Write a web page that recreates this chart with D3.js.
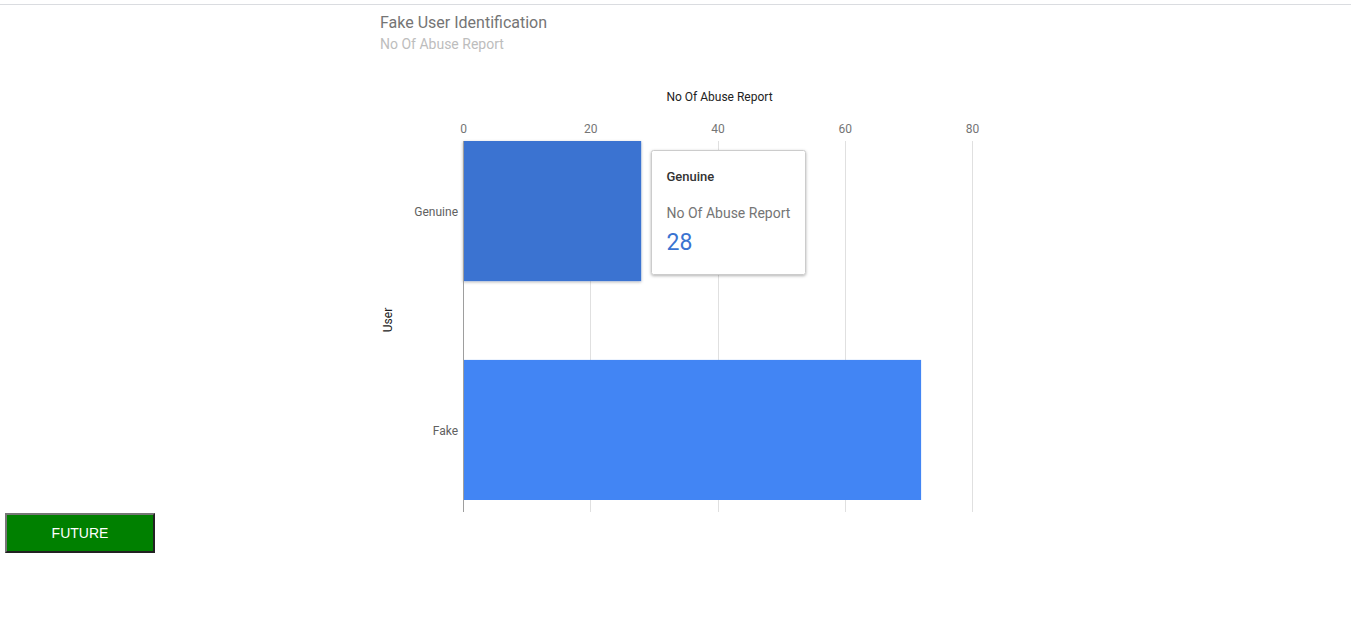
<!DOCTYPE html>
<html>
<head>
<meta charset="utf-8">
<script src="https://cdn.jsdelivr.net/npm/d3@7"></script>
<style>
  html, body { margin: 0; padding: 0; background: #fff; }
  body { width: 1351px; height: 630px; position: relative; overflow: hidden; font-family: Roboto, "Noto Sans", sans-serif; }
  #topline { position: absolute; left: 0; top: 4px; width: 1351px; height: 1px; background: #dadce0; }
  #future { position: absolute; left: 5px; top: 513px; width: 150px; height: 40px; background: #008000; color: #fff;
            border: 2px solid; border-color: #767676 #222 #222 #767676; font-family: Arial, "Liberation Sans", sans-serif;
            font-size: 14px; box-sizing: border-box; padding: 0; }
  svg { position: absolute; left: 0; top: 0; }
</style>
</head>
<body>
<div id="topline"></div>
<svg id="chart" width="1351" height="630"></svg>
<button id="future">FUTURE</button>
<script>
const categories = ["Genuine", "Fake"];
const values = [28, 72];
const xTicks = [0, 20, 40, 60, 80];
const chartTitle = "Fake User Identification";
const chartSubtitle = "No Of Abuse Report";
const xAxisTitle = "No Of Abuse Report";
const yAxisTitle = "User";
const tooltipIndex = 0;

const svg = d3.select("#chart");
const pLeft = 463, pRight = 972, pTop = 141, pBottom = 512;

const x = d3.scaleLinear().domain([0, 80]).range([pLeft, pRight]);
const y = d3.scaleBand().domain(categories).range([pTop, 500]).paddingInner(0.36).paddingOuter(0);

svg.append("text").attr("x", 380).attr("y", 28).attr("font-size", 16).attr("fill", "#757575").text(chartTitle);
svg.append("text").attr("x", 380).attr("y", 49).attr("font-size", 14).attr("fill", "#bdbdbd").text(chartSubtitle);

// gridlines
svg.append("g").selectAll("line").data(xTicks.filter(d => d !== 0)).join("line")
  .attr("x1", d => Math.round(x(d)) + 0.5).attr("x2", d => Math.round(x(d)) + 0.5).attr("y1", pTop).attr("y2", pBottom)
  .attr("stroke", "#e0e0e0").attr("stroke-width", 1);

// x axis tick labels
const xAxis = d3.axisTop(x).tickValues(xTicks).tickSize(0).tickPadding(0);
const gx = svg.append("g").attr("transform", `translate(0, 133)`).call(xAxis);
gx.select(".domain").remove();
gx.selectAll("text").attr("font-size", 12).attr("fill", "#757575").attr("font-family", "Roboto, sans-serif").attr("dy", 0);

svg.append("text").attr("x", (pLeft + pRight) / 2 + 2).attr("y", 101).attr("text-anchor", "middle")
  .attr("font-size", 12).attr("fill", "#222").text(xAxisTitle);

// bars
const colors = ["#3a73d1", "#4285f4"];
const shadow = svg.append("defs").append("filter").attr("id", "sh").attr("x", "-10%").attr("y", "-10%").attr("width", "130%").attr("height", "130%");
shadow.append("feDropShadow").attr("dx", 0).attr("dy", 1).attr("stdDeviation", 1.5).attr("flood-color", "#000").attr("flood-opacity", 0.3);

svg.append("g").selectAll("rect").data(categories).join("rect")
  .attr("x", x(0)).attr("y", d => y(d))
  .attr("width", (d, i) => x(values[i]) - x(0)).attr("height", y.bandwidth())
  .attr("fill", (d, i) => colors[i])
  .attr("filter", (d, i) => i === tooltipIndex ? "url(#sh)" : null);

// y axis
const yAxis = d3.axisLeft(y).tickSize(0).tickPadding(5);
const gy = svg.append("g").attr("transform", `translate(${pLeft},1)`).call(yAxis);
gy.select(".domain").remove();
gy.selectAll("text").attr("font-size", 12).attr("fill", "#616161").attr("font-family", "Roboto, sans-serif");
svg.append("line").attr("x1", pLeft + 0.5).attr("x2", pLeft + 0.5).attr("y1", pTop).attr("y2", pBottom)
  .attr("stroke", "#9e9e9e").attr("stroke-width", 1);

svg.append("text").attr("transform", `translate(392, 320) rotate(-90)`).attr("text-anchor", "middle")
  .attr("font-size", 12).attr("fill", "#222").text(yAxisTitle);

// tooltip
const tt = svg.append("g").attr("transform", "translate(651.5, 150.5)");
tt.append("rect").attr("width", 154).attr("height", 124).attr("rx", 2).attr("fill", "#fff")
  .attr("stroke", "#cccccc").attr("filter", "url(#sh)");
tt.append("text").attr("x", 15).attr("y", 30).attr("font-size", 13).attr("font-weight", 500).attr("fill", "#333").text(categories[tooltipIndex]);
tt.append("text").attr("x", 15).attr("y", 67).attr("font-size", 14).attr("fill", "#757575").text(xAxisTitle);
tt.append("text").attr("x", 15).attr("y", 99).attr("font-size", 23).attr("fill", colors[tooltipIndex]).text(values[tooltipIndex]);
</script>
</body>
</html>
